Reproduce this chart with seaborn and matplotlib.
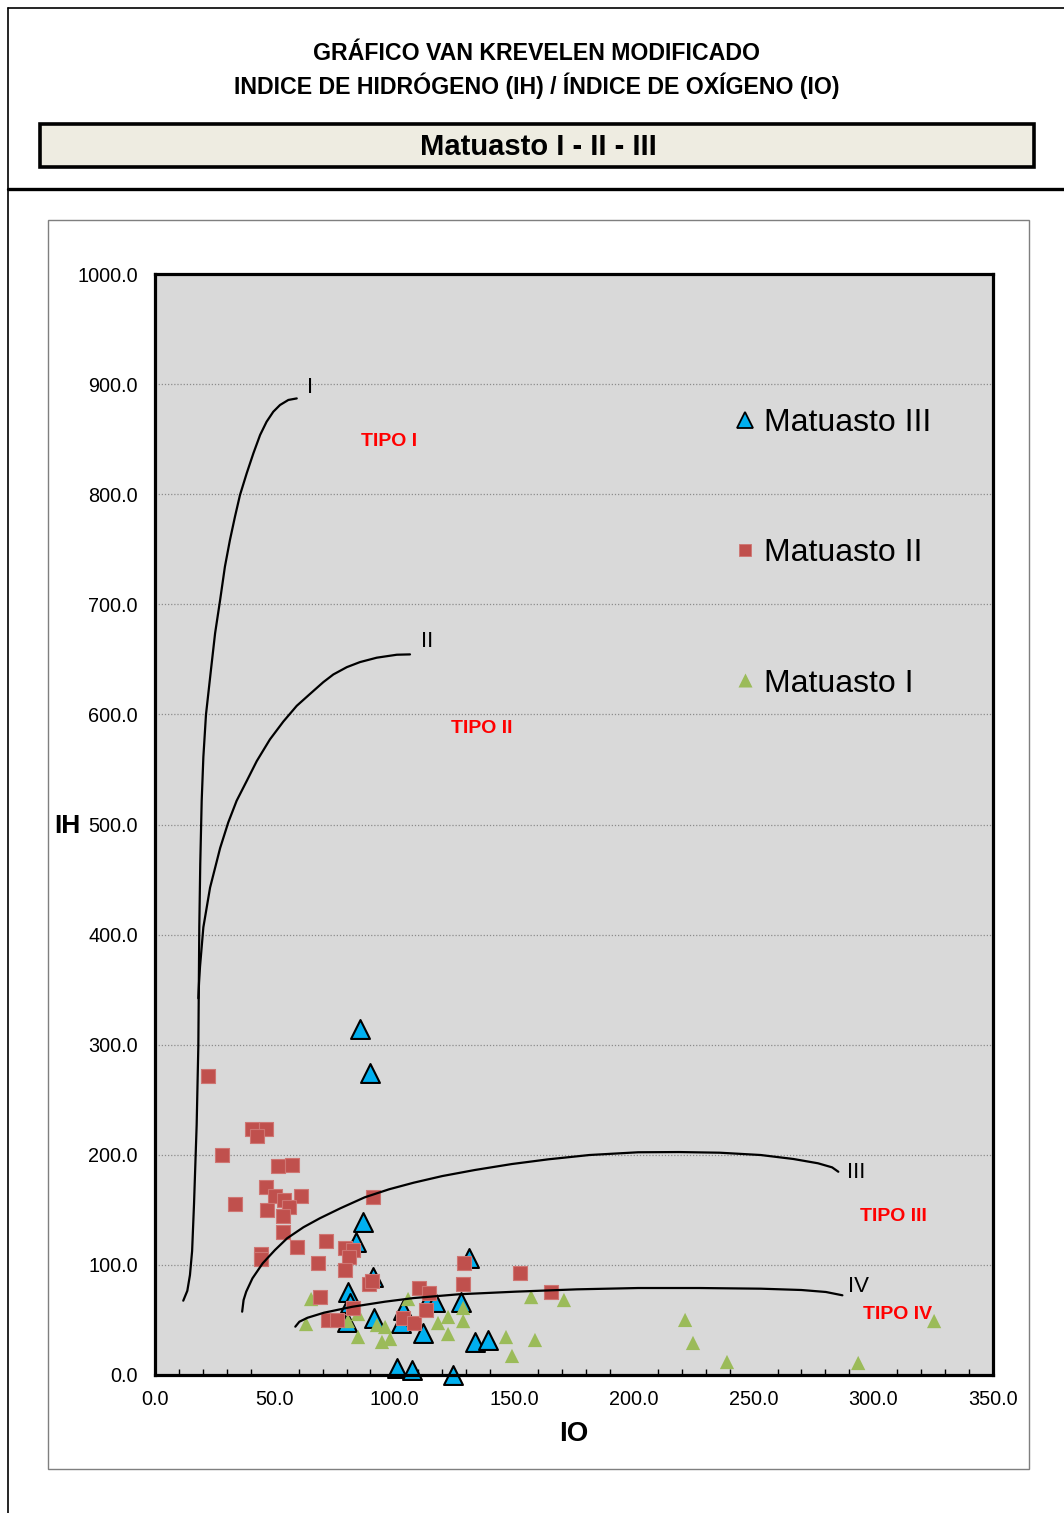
import matplotlib
matplotlib.use("Agg")
import matplotlib.pyplot as plt
import seaborn as sns
import pandas as pd
from matplotlib.lines import Line2D
from matplotlib.patches import Rectangle
from matplotlib.ticker import MultipleLocator, FormatStrFormatter

# ---------------- data ----------------
m3_io = [85.6, 89.8, 86.9, 84.0, 131.2, 91.1, 80.6, 81.5, 80.2, 91.5, 103.6, 102.8,
         114.9, 117.0, 111.9, 127.8, 133.7, 139.1, 101.1, 107.4, 124.5]
m3_ih = [314.3, 274.3, 139.0, 120.8, 106.3, 89.0, 75.4, 65.4, 48.1, 51.8, 59.0, 47.2,
         71.8, 66.3, 38.1, 66.3, 30.0, 31.8, 6.4, 4.5, 0.0]

m2_io = [22.1, 40.5, 46.4, 42.6, 28.0, 51.4, 57.3, 46.4, 33.4, 50.1, 53.9, 61.0, 56.0,
         46.8, 53.5, 53.5, 91.1, 59.3, 44.3, 44.3, 71.4, 68.1, 79.4, 82.7, 81.0, 79.4,
         68.9, 72.3, 76.0, 89.4, 90.6, 82.7, 103.6, 108.2, 110.3, 114.5, 113.2, 129.1,
         128.7, 152.5, 165.4]
m2_ih = [271.6, 223.4, 223.4, 217.1, 199.8, 189.8, 190.7, 170.7, 155.3, 162.6, 159.0,
         162.6, 152.6, 149.9, 144.4, 129.9, 161.7, 116.3, 109.9, 105.4, 121.7, 101.7,
         115.3, 113.5, 107.2, 95.4, 70.8, 50.0, 50.0, 82.7, 85.4, 60.9, 51.8, 47.2, 79.0,
         74.5, 59.0, 101.7, 82.7, 92.6, 75.4]

m1_io = [65.2, 63.1, 80.6, 84.8, 84.8, 92.7, 96.1, 94.8, 98.2, 105.7, 118.2, 122.4,
         122.4, 128.7, 128.7, 146.6, 149.1, 157.1, 158.7, 170.8, 221.4, 224.7, 238.9,
         293.7, 325.4]
m1_ih = [69.0, 46.3, 49.0, 55.4, 34.5, 45.4, 43.6, 30.0, 32.7, 69.0, 47.2, 52.7, 37.2,
         60.9, 49.0, 34.5, 17.3, 70.8, 31.8, 68.1, 50.0, 29.1, 11.8, 10.9, 49.0]

# Van Krevelen reference curves
c1_io = [11.8, 13.5, 14.6, 15.5, 16.3, 17.4, 18.1, 18.5, 18.9, 19.5, 20.2, 21.3,
         23.5, 25.1, 27.2, 29.2, 31.3, 33.4, 35.5, 38.3, 41.1, 43.9, 46.6, 49.4, 52.2,
         55.7, 59.2]
c1_ih = [67.5, 76.5, 90.8, 112.6, 155.5, 227.2, 299.0, 406.9, 464.0, 521.6, 561.3,
         600.0, 643.0, 673.7, 703.9, 734.2, 758.4, 779.6, 799.3, 819.0, 837.2,
         853.8, 865.8, 874.9, 881.0, 885.6, 887.0]
c2_io = [18.1, 18.4, 18.8, 19.5, 20.2, 21.6, 23.0, 25.1, 27.2, 30.6, 34.1, 38.3, 42.5,
         48.0, 53.6, 59.2, 64.7, 70.3, 74.5, 80.1, 85.6, 92.6, 101.0, 106.5]
c2_ih = [342.1, 356.5, 370.8, 388.8, 406.7, 424.7, 442.7, 460.6, 478.6, 501.9, 521.6,
         539.5, 557.6, 577.3, 593.5, 607.8, 618.5, 629.3, 636.3, 642.9, 647.5, 651.5,
         654.2, 654.5]
c3_io = [36.4, 37.0, 38.1, 40.7, 45.0, 50.1, 55.2, 62.0, 68.8, 77.4, 87.6, 97.8, 108.1,
         120.0, 133.6, 149.0, 164.3, 181.4, 201.8, 218.9, 235.9, 253.0, 266.6, 276.9,
         282.8, 285.4]
c3_ih = [57.5, 68.1, 75.7, 87.8, 101.5, 113.5, 124.2, 134.2, 142.3, 151.4, 161.4, 168.7,
         174.7, 180.7, 186.2, 191.6, 195.9, 199.8, 202.3, 202.5, 201.9, 199.8, 196.2,
         192.3, 188.6, 184.6]
c4_io = [58.6, 60.3, 63.7, 70.6, 82.5, 96.1, 108.1, 126.8, 150.7, 176.2, 201.8, 227.4,
         253.0, 270.0, 280.2, 287.1]
c4_ih = [43.9, 48.4, 52.0, 56.6, 62.0, 66.6, 69.9, 73.3, 75.7, 77.8, 79.0, 79.0, 78.4,
         77.2, 75.4, 72.4]

curve_labels = ["I", "II", "III", "IV"]
curve_label_pos = [(64.7, 896.5), (113.6, 665.8), (292.8, 183.5), (294.0, 80.8)]
zone_labels = ["TIPO I", "TIPO II", "TIPO III", "TIPO IV"]
zone_label_pos = [(97.7, 848.3), (136.6, 587.6), (308.3, 144.4), (310.0, 54.5)]

series_names = ["Matuasto III", "Matuasto II", "Matuasto I"]
x_ticks = [0, 50, 100, 150, 200, 250, 300, 350]
y_ticks = [0, 100, 200, 300, 400, 500, 600, 700, 800, 900, 1000]

# ---------------- style ----------------
sns.set_theme(style="white")
plt.rcParams["font.family"] = ["Liberation Sans", "DejaVu Sans"]
plt.rcParams["text.color"] = "black"
plt.rcParams["axes.labelcolor"] = "black"
plt.rcParams["xtick.color"] = "black"
plt.rcParams["ytick.color"] = "black"

W, H = 1064, 1513
fig = plt.figure(figsize=(W / 100, H / 100), dpi=100)
fig.patch.set_facecolor("white")

def fx(px):
    return px / W

def fy(py):
    return 1 - py / H

# frame lines
fig.add_artist(Line2D([fx(8), 1.0], [fy(8), fy(8)], color="black", lw=1.2))
fig.add_artist(Line2D([fx(8), fx(8)], [fy(8), 0.0], color="black", lw=1.2))
fig.add_artist(Line2D([fx(8), 1.0], [fy(189), fy(189)], color="black", lw=2.4))

# titles
fig.text(0.504, fy(54), "GRÁFICO VAN KREVELEN MODIFICADO", ha="center", va="center",
         fontsize=16.7, fontweight="bold", color="black")
fig.text(0.504, fy(86), "INDICE DE HIDRÓGENO (IH) / ÍNDICE DE OXÍGENO (IO)", ha="center",
         va="center", fontsize=16.7, fontweight="bold", color="black")

# subtitle box
fig.add_artist(Rectangle((fx(40), fy(167)), fx(1034) - fx(40), fy(124) - fy(167),
                         transform=fig.transFigure, facecolor="#EEECE1", edgecolor="black",
                         lw=2.6))
fig.text(fx(538), fy(147), "Matuasto I - II - III", ha="center", va="center",
         fontsize=21, fontweight="bold", color="black")

# chart area
fig.add_artist(Rectangle((fx(48), fy(1469)), fx(1029) - fx(48), fy(220) - fy(1469),
                         transform=fig.transFigure, facecolor="white", edgecolor="#7f7f7f",
                         lw=1.0, zorder=0))

ax = fig.add_axes([fx(155), fy(1375), fx(993) - fx(155), fy(274) - fy(1375)])
ax.set_facecolor("#D9D9D9")

df3 = pd.DataFrame({"IO": m3_io, "IH": m3_ih})
df2 = pd.DataFrame({"IO": m2_io, "IH": m2_ih})
df1 = pd.DataFrame({"IO": m1_io, "IH": m1_ih})

sns.scatterplot(data=df3, x="IO", y="IH", ax=ax, marker="^", s=185, color="#00B0F0",
                edgecolor="black", linewidth=1.5, zorder=3, clip_on=False)
sns.scatterplot(data=df1, x="IO", y="IH", ax=ax, marker="^", s=105, color="#9BBB59",
                edgecolor="none", linewidth=0, zorder=4, clip_on=False)
sns.scatterplot(data=df2, x="IO", y="IH", ax=ax, marker="s", s=115, color="#C0504D",
                edgecolor="#CF7572", linewidth=0.8, zorder=5, clip_on=False)

for cx, cy in [(c1_io, c1_ih), (c2_io, c2_ih), (c3_io, c3_ih), (c4_io, c4_ih)]:
    ax.plot(cx, cy, color="black", lw=1.6, zorder=6, solid_capstyle="round",
            solid_joinstyle="round")

for lab, (lx, ly) in zip(curve_labels, curve_label_pos):
    ax.text(lx, ly, lab, fontsize=16, ha="center", va="center", color="black", zorder=7)
for lab, (lx, ly) in zip(zone_labels, zone_label_pos):
    ax.text(lx, ly, lab, fontsize=14, fontweight="bold", ha="center", va="center",
            color="#FF0000", zorder=7)

ax.set_xlim(0, 350)
ax.set_ylim(0, 1000)
ax.set_xticks(x_ticks)
ax.set_yticks(y_ticks)
ax.xaxis.set_minor_locator(MultipleLocator(10))
ax.xaxis.set_major_formatter(FormatStrFormatter("%.1f"))
ax.yaxis.set_major_formatter(FormatStrFormatter("%.1f"))
ax.tick_params(axis="x", which="major", direction="out", length=6, width=1.2,
               labelsize=14.3, pad=5, colors="black")
ax.tick_params(axis="x", which="minor", direction="in", length=4, width=1.0,
               bottom=True, colors="black")
ax.tick_params(axis="y", which="major", direction="out", length=0, labelsize=14.3,
               pad=12.3, colors="black")

for y in y_ticks[1:-1]:
    ax.axhline(y, color="#8c8c8c", lw=0.9, ls=(0, (1, 1.5)), zorder=1)

for sp in ax.spines.values():
    sp.set_visible(True)
    sp.set_color("black")
    sp.set_linewidth(2.3)
    sp.set_zorder(8)

ax.set_xlabel("IO", fontsize=20, fontweight="bold", color="black")
ax.set_ylabel("IH", fontsize=19, fontweight="bold", rotation=0, color="black")
ax.xaxis.set_label_coords(0.5, (1375 - 1434) / 1101)
ax.yaxis.set_label_coords((67 - 155) / 838, (1375 - 826) / 1101)
ax.xaxis.label.set_va("center")
ax.yaxis.label.set_va("center")
ax.yaxis.label.set_ha("center")

handles = [
    Line2D([], [], ls="none", marker="^", ms=12, mfc="#00B0F0", mec="black", mew=1.3),
    Line2D([], [], ls="none", marker="s", ms=9, mfc="#C0504D", mec="#CF7572", mew=0.6),
    Line2D([], [], ls="none", marker="^", ms=10, mfc="#9BBB59", mec="none"),
]
leg = ax.legend(handles, series_names, loc="upper left",
                bbox_to_anchor=((735 - 155) / 838, (1375 - 408) / 1101),
                frameon=False, fontsize=23, labelspacing=3.14, handlelength=0.6,
                handletextpad=0.3, borderpad=0, borderaxespad=0)
for t in leg.get_texts():
    t.set_color("black")

fig.savefig("out.png", dpi=100, facecolor="white")
